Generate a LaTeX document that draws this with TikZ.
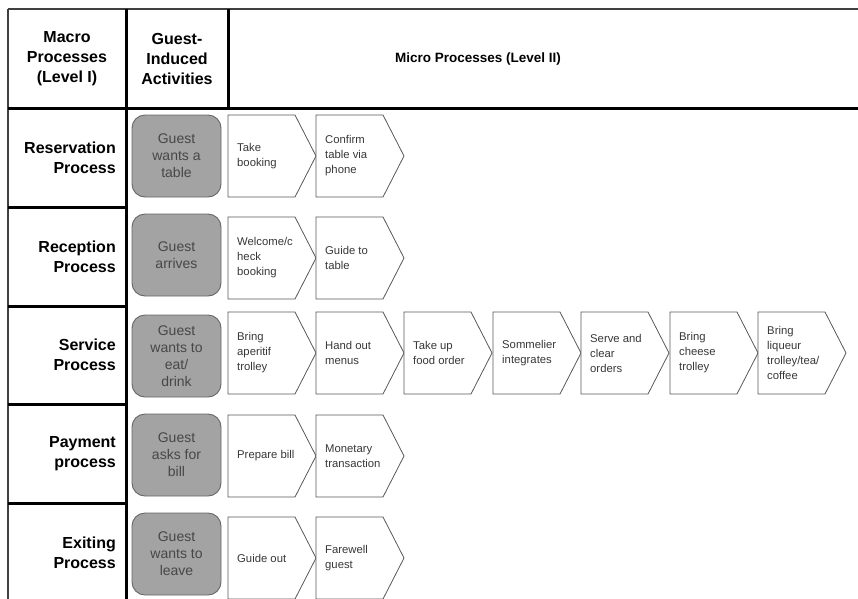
\documentclass[tikz,border=0pt]{standalone}
\usepackage{fontspec}
\setmainfont{Liberation Sans}
\begin{document}
\begin{tikzpicture}[x=1pt,y=-1pt,
  grid/.style={line width=3pt,black},
  outer/.style={line width=2pt,black!75},
  guest/.style={draw=black!60,fill=black!36,rounded corners=13pt,line width=0.9pt,
    minimum width=89pt,minimum height=82pt,align=center,inner sep=0pt,
    font=\fontsize{14}{17}\selectfont,text=black!72},
  chevron/.style={draw=black!65,fill=white,line width=0.8pt},
  chevtext/.style={anchor=west,align=left,font=\fontsize{11.3}{15}\selectfont,text=black!78,inner sep=0pt},
  rowlabel/.style={anchor=east,align=right,font=\bfseries\fontsize{16}{20}\selectfont,inner sep=0pt},
  head/.style={align=center,font=\bfseries\fontsize{16}{20}\selectfont,inner sep=0pt}]
\newcommand\chevbox[4]{%
  \draw[chevron] (#2,#3) -- ++(67,0) -- ++(21,41) -- ++(-21,41) -- ++(-67,0) -- cycle;
  \node[chevtext] (#1) at (#2+9,#3+41) {#4};}
\useasboundingbox (0,0) rectangle (858,598);
\clip (0,0) rectangle (858,598);
\fill[white] (0,0) rectangle (858,598);

% table lines
\draw[outer] (8,9) -- (858,9);
\draw[outer] (8,9) -- (8,600);
\draw[grid] (8,108) -- (858,108);
\draw[grid] (126,9) -- (126,600);
\draw[grid] (228,9) -- (228,108);
\foreach \y in {207,306,404,503} \draw[grid] (8,\y) -- (126,\y);

% headers
\node[head] (h1) at (67,59) {Macro\\Processes\\(Level I)};
\node[head] (h2) at (177,59) {Guest-\\Induced\\Activities};
\node[head,font=\bfseries\fontsize{13.5}{16}\selectfont] (h3) at (478,59) {Micro Processes (Level II)};

% row labels
\node[rowlabel] (r1) at (116,158) {Reservation\\Process};
\node[rowlabel] (r2) at (116,257) {Reception\\Process};
\node[rowlabel] (r3) at (116,355) {Service\\Process};
\node[rowlabel] (r4) at (116,454) {Payment\\process};
\node[rowlabel] (r5) at (116,553) {Exiting\\Process};

% guest activities
\node[guest] (g1) at (176.5,156) {Guest\\wants a\\table};
\node[guest] (g2) at (176.5,255) {Guest\\arrives};
\node[guest] (g3) at (176.5,356) {Guest\\wants to\\eat/\\drink};
\node[guest] (g4) at (176.5,455) {Guest\\asks for\\bill};
\node[guest] (g5) at (176.5,554) {Guest\\wants to\\leave};

% micro processes
\chevbox{a1}{228}{115}{Take\\booking}
\chevbox{a2}{316}{115}{Confirm\\table via\\phone}

\chevbox{b1}{228}{217}{Welcome/c\\heck\\booking}
\chevbox{b2}{316}{217}{Guide to\\table}

\chevbox{c1}{228}{312}{Bring\\aperitif\\trolley}
\chevbox{c2}{316}{312}{Hand out\\menus}
\chevbox{c3}{404}{312}{Take up\\food order}
\chevbox{c4}{493}{312}{Sommelier\\integrates}
\chevbox{c5}{581}{312}{Serve and\\clear\\orders}
\chevbox{c6}{670}{312}{Bring\\cheese\\trolley}
\chevbox{c7}{758}{312}{Bring\\liqueur\\trolley/tea/\\coffee}

\chevbox{d1}{228}{415}{Prepare bill}
\chevbox{d2}{316}{415}{Monetary\\transaction}

\chevbox{e1}{228}{517}{Guide out}
\chevbox{e2}{316}{517}{Farewell\\guest}
\end{tikzpicture}
\end{document}
